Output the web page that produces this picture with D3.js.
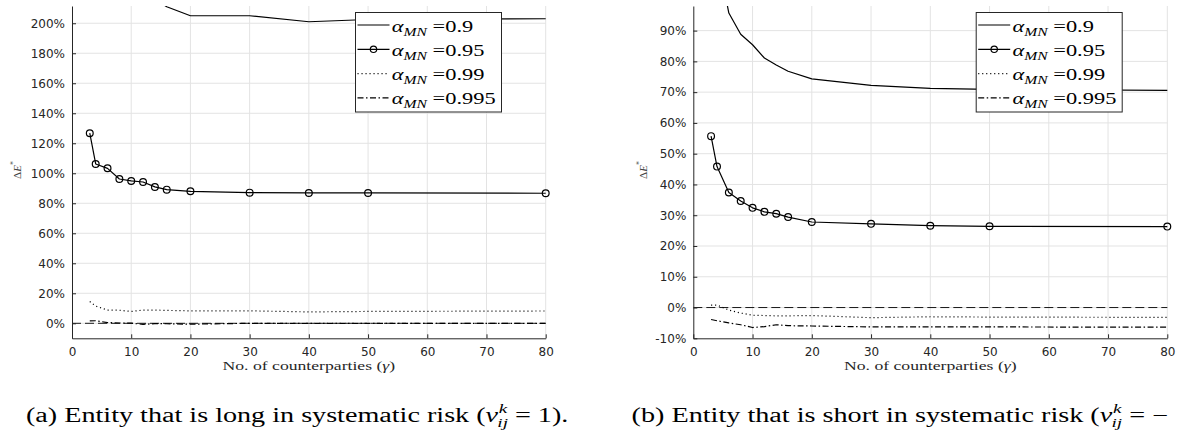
<!DOCTYPE html>
<html>
<head>
<meta charset="utf-8">
<script src="https://cdn.jsdelivr.net/npm/d3@7/dist/d3.min.js"></script>
<style>
  html, body { margin: 0; padding: 0; background: #fff; }
  svg { display: block; }
  .tick text { font-family: "DejaVu Sans", sans-serif; font-size: 12px; fill: #262626; }
  .serif { font-family: "Liberation Serif", "DejaVu Serif", serif; }
</style>
</head>
<body>
<svg id="chart" width="1180" height="430"></svg>
<script>
// ---------- data ----------
const gamma = [3, 4, 6, 8, 10, 12, 14, 16, 20, 30, 40, 50, 80];
const xTicks = [0, 10, 20, 30, 40, 50, 60, 70, 80];
const alphaLabels = ["0.9", "0.95", "0.99", "0.995"];

// (a) long in systematic risk, % values
const longA90  = [320, 290, 262, 244, 232, 223, 216, 211, 205, 205, 201, 202.5, 203];
const longA95  = [126.7, 106.2, 103.3, 96.2, 94.9, 94.2, 90.9, 89.1, 88.0, 87.1, 86.9, 86.9, 86.7];
const longA99  = [14.5, 11.5, 8.8, 8.7, 7.9, 8.8, 8.8, 8.6, 8.3, 8.3, 7.6, 7.9, 8.2];
const longA995 = [1.6, 1.7, 0.5, 0.2, 0.1, -0.7, -0.2, -0.3, -0.6, 0.0, 0.0, 0.0, 0.0];
const longYTicks = [0, 20, 40, 60, 80, 100, 120, 140, 160, 180, 200];
const longYDomain = [-10, 211.5];

// (b) short in systematic risk, % values
const shortA90  = [135, 115, 95.7, 88.8, 85.4, 81.1, 78.8, 76.8, 74.3, 72.2, 71.2, 70.9, 70.6];
const shortA95  = [55.7, 45.8, 37.4, 34.6, 32.4, 31.1, 30.5, 29.4, 27.8, 27.2, 26.6, 26.4, 26.3];
const shortA99  = [0.8, 0.8, -0.8, -1.8, -2.5, -2.6, -2.7, -2.7, -2.6, -3.3, -3.0, -3.1, -3.2];
const shortA995 = [-3.9, -4.3, -5.0, -5.6, -6.5, -6.2, -5.6, -5.9, -6.0, -6.3, -6.3, -6.3, -6.4];
const shortYTicks = [-10, 0, 10, 20, 30, 40, 50, 60, 70, 80, 90];
const shortYDomain = [-10, 98];

const zeroLineX = [0, 80];

// ---------- layout ----------
const svg = d3.select("#chart");
const ink = "#000";
const axisInk = "#262626";
const gridInk = "#e3e3e3";
const styles = [
  { dash: null, marker: false },
  { dash: null, marker: true },
  { dash: "1.1,2.9", marker: false },
  { dash: "6,2.5,1.5,2.5", marker: false }
];

const panels = [
  { id: "a", left: 72, right: 545.7, series: [longA90, longA95, longA99, longA995],
    yTicks: longYTicks, yDomain: longYDomain, legendX: 355, yLabelX: 20.5,
    caption: { x: 26, w: 552, pre: "(a) Entity that is long in systematic risk (", post: " = 1)." } },
  { id: "b", left: 693.3, right: 1167.3, series: [shortA90, shortA95, shortA99, shortA995],
    yTicks: shortYTicks, yDomain: shortYDomain, legendX: 975.7, yLabelX: 646.5,
    caption: { x: 631.5, w: 546, pre: "(b) Entity that is short in systematic risk (", post: " = \u2212" } }
];
const plotTop = 6, plotBottom = 338.3;

// horizontal stretch helper (emulates the wider LaTeX font)
function stretch(gSel, textSel, targetW, sFixed) {
  const w = textSel.node().getComputedTextLength();
  const s = sFixed || (targetW / w);
  const tr = gSel.attr("data-tr");
  gSel.attr("transform", `${tr} scale(${s},1)`);
  return s;
}

let legendScale = null;

panels.forEach((p, pi) => {
  const x = d3.scaleLinear().domain([0, 80]).range([p.left, p.right]);
  const y = d3.scaleLinear().domain(p.yDomain).range([plotBottom, plotTop]);
  const g = svg.append("g");

  // grid
  g.append("g").selectAll("line").data(xTicks.filter(t => t > 0)).join("line")
    .attr("x1", d => x(d)).attr("x2", d => x(d)).attr("y1", plotTop).attr("y2", plotBottom)
    .attr("stroke", gridInk).attr("stroke-width", 1);
  g.append("g").selectAll("line").data(p.yTicks.filter(t => t > p.yDomain[0])).join("line")
    .attr("x1", p.left).attr("x2", p.right).attr("y1", d => y(d)).attr("y2", d => y(d))
    .attr("stroke", gridInk).attr("stroke-width", 1);

  // clip
  const clipId = "clip-" + p.id;
  svg.append("clipPath").attr("id", clipId).append("rect")
    .attr("x", p.left).attr("y", plotTop).attr("width", p.right - p.left + 6).attr("height", plotBottom - plotTop);

  const plot = g.append("g").attr("clip-path", `url(#${clipId})`);

  // zero reference line
  plot.append("line")
    .attr("x1", x(zeroLineX[0])).attr("x2", x(zeroLineX[1]))
    .attr("y1", y(0)).attr("y2", y(0))
    .attr("stroke", ink).attr("stroke-width", 0.9).attr("stroke-dasharray", "9,4");

  const line = d3.line().x((d, i) => x(gamma[i])).y(d => y(d));
  p.series.forEach((s, si) => {
    const st = styles[si];
    plot.append("path").datum(s).attr("d", line)
      .attr("fill", "none").attr("stroke", ink).attr("stroke-width", 1.2)
      .attr("stroke-dasharray", st.dash).attr("stroke-linejoin", "round");
    if (st.marker) {
      g.append("g").selectAll("circle").data(s).join("circle")
        .attr("cx", (d, i) => x(gamma[i])).attr("cy", d => y(d)).attr("r", 3.4)
        .attr("fill", "none").attr("stroke", ink).attr("stroke-width", 1.2);
    }
  });

  // axes
  const xAxis = d3.axisBottom(x).tickValues(xTicks).tickSizeInner(-4).tickSizeOuter(0).tickPadding(11);
  const gx = g.append("g").attr("transform", `translate(0,${plotBottom})`).call(xAxis);
  const yAxis = d3.axisLeft(y).tickValues(p.yTicks).tickFormat(d => d + "%")
    .tickSizeInner(-4).tickSizeOuter(0).tickPadding(11);
  const gy = g.append("g").attr("transform", `translate(${p.left},0)`).call(yAxis);
  [gx, gy].forEach(a => {
    a.select(".domain").attr("stroke", axisInk).attr("stroke-width", 1);
    a.selectAll(".tick line").attr("stroke", axisInk).attr("stroke-width", 1);
  });
  gx.selectAll(".tick text").attr("dy", "0.71em").attr("y", 9.5);
  gy.selectAll(".tick text").attr("x", -7);

  // x label
  const xlg = g.append("g").attr("data-tr", `translate(${(p.left + p.right) / 2},369.5)`);
  xlg.attr("transform", xlg.attr("data-tr"));
  const xl = xlg.append("text").attr("class", "serif")
    .attr("x", 0).attr("y", 0).attr("text-anchor", "middle")
    .attr("font-size", 13).attr("fill", axisInk);
  xl.append("tspan").text("No. of counterparties (");
  xl.append("tspan").attr("font-style", "italic").text("\u03b3");
  xl.append("tspan").text(")");
  stretch(xlg, xl, 172.7);

  // y label
  const yl = g.append("text").attr("class", "serif")
    .attr("transform", `translate(${p.yLabelX},170) rotate(-90)`)
    .attr("text-anchor", "middle").attr("font-size", 11).attr("fill", "#404040");
  yl.append("tspan").text("\u0394");
  yl.append("tspan").attr("font-style", "italic").text("E");
  yl.append("tspan").attr("font-size", 8).attr("dy", -4.5).text("*");

  // legend
  const lg = g.append("g").attr("transform", `translate(${p.legendX},12)`);
  lg.append("rect").attr("x", 0.5).attr("y", 0.5).attr("width", 146).attr("height", 99.5)
    .attr("fill", "#fff").attr("stroke", axisInk).attr("stroke-width", 1);
  const legTexts = [];
  alphaLabels.forEach((lab, li) => {
    const ry = 13 + li * 24.3;
    const st = styles[li];
    lg.append("line").attr("x1", 2.5).attr("x2", 34.5).attr("y1", ry).attr("y2", ry)
      .attr("stroke", ink).attr("stroke-width", 1.2).attr("stroke-dasharray", st.dash);
    if (st.marker) lg.append("circle").attr("cx", 18.5).attr("cy", ry).attr("r", 3.2)
      .attr("fill", "none").attr("stroke", ink).attr("stroke-width", 1.2);
    const tg = lg.append("g").attr("data-tr", `translate(36.7,${ry + 6.5})`);
    tg.attr("transform", tg.attr("data-tr"));
    const t = tg.append("text").attr("class", "serif").attr("x", 0).attr("y", 0)
      .attr("font-size", 16.5).attr("fill", ink);
    t.append("tspan").attr("font-style", "italic").text("\u03b1");
    t.append("tspan").attr("font-style", "italic").attr("font-size", 11.5).attr("dy", 4).text("MN");
    t.append("tspan").attr("dy", -4).text(" =" + lab);
    legTexts.push([tg, t]);
  });
  if (legendScale === null) {
    const [tg3, t3] = legTexts[3];
    legendScale = 104 / t3.node().getComputedTextLength();
  }
  legTexts.forEach(([tg, t]) => stretch(tg, t, 0, legendScale));

  // caption
  const cg = svg.append("g").attr("data-tr", `translate(${p.caption.x},422)`);
  cg.attr("transform", cg.attr("data-tr"));
  const c = cg.append("text").attr("class", "serif").attr("x", 0).attr("y", 0)
    .attr("font-size", 20).attr("fill", ink);
  c.append("tspan").text(p.caption.pre);
  c.append("tspan").attr("font-style", "italic").text("v");
  c.append("tspan").attr("font-style", "italic").attr("font-size", 13.5).attr("dy", -9).attr("dx", 0.5).text("k");
  c.append("tspan").attr("font-style", "italic").attr("font-size", 13.5).attr("dy", 14).attr("dx", -7).text("ij");
  c.append("tspan").attr("dy", -5).text(p.caption.post);
  stretch(cg, c, p.caption.w);
});
</script>
</body>
</html>
